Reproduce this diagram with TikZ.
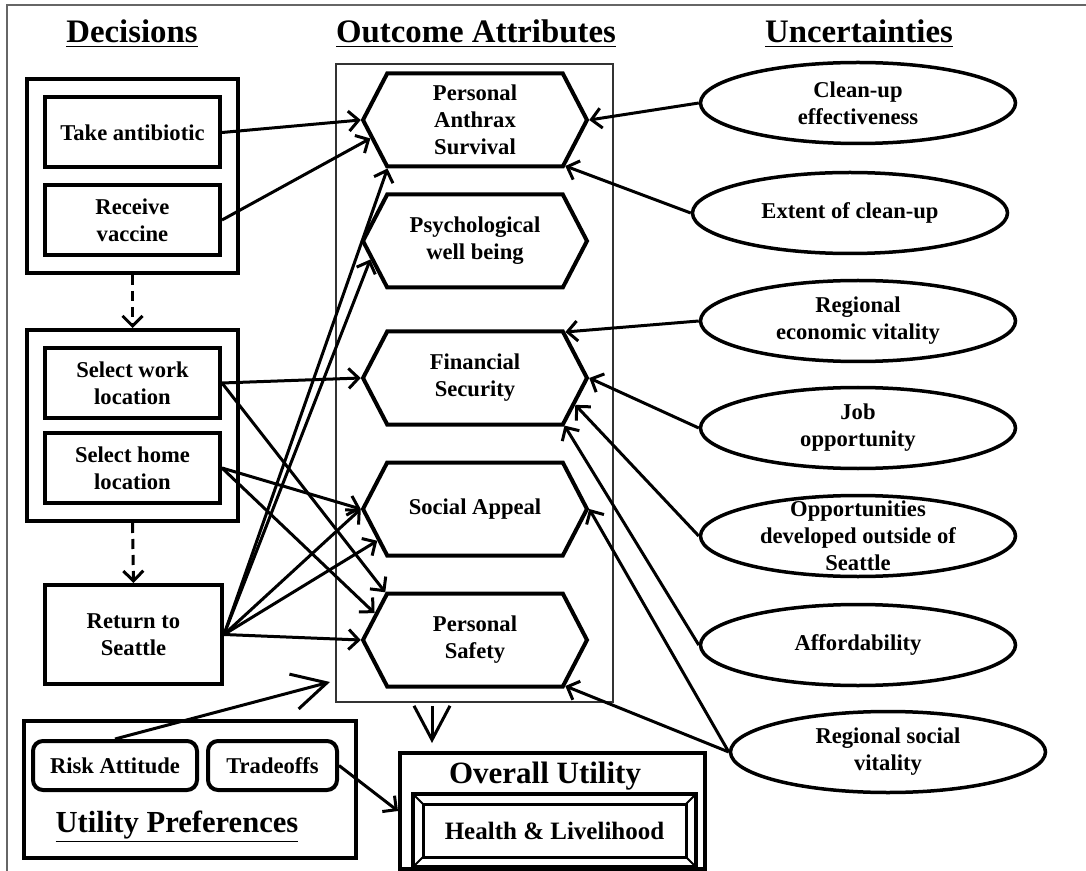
\documentclass[tikz,border=0pt]{standalone}
\usepackage{fontspec}
\setmainfont{Liberation Serif}
\usetikzlibrary{shapes.geometric,shapes.symbols,arrows.meta,fit,calc}

\tikzset{
  txt/.style={font=\bfseries\fontsize{11.3}{13.5}\selectfont, align=center},
  head/.style={font=\bfseries\fontsize{16.4}{19}\selectfont, anchor=base},
  dbox/.style={txt, draw, line width=2pt, minimum width=87.5pt, minimum height=35pt, inner sep=0pt},
  grp/.style={draw, line width=2pt, inner sep=8pt},
  hexa/.style={txt, signal, signal to=east and west, signal pointer angle=125, draw, line width=2pt,
    minimum width=112pt, minimum height=46.5pt, inner sep=0pt},
  unc/.style={txt, ellipse, draw, line width=1.75pt, minimum width=157.5pt, minimum height=40.5pt, inner sep=0pt},
  pref/.style={txt, draw, line width=2pt, rounded corners=5pt, minimum height=24.5pt, inner sep=0pt},
  conn/.style={-{Straight Barb[length=5pt,width=10pt]}, line width=1.5pt},
  bigtip/.style={-{Straight Barb[length=17pt,width=18pt]}, line width=1.5pt},
}

\begin{document}
\begin{tikzpicture}[x=0.5pt,y=-0.5pt]
\useasboundingbox (0,0) rectangle (1086,871);
\draw[black!60, line width=0.6pt] (7,871) -- (7,5) -- (1086,5);

\node[head] (hdec) at (132,43) {\underline{Decisions}};
\node[head] (hout) at (476,43) {\underline{Outcome Attributes}};
\node[head] (hunc) at (859,43) {\underline{Uncertainties}};

% outcome attributes
\node[draw, black!80, line width=0.6pt, minimum width=138.5pt, minimum height=319pt, inner sep=0pt] (outc) at (474.5,383) {};
\node[hexa] (psurv) at (475,120) {Personal\\Anthrax\\Survival};
\node[hexa] (psych) at (475,241) {Psychological\\well being};
\node[hexa] (fin) at (475,378) {Financial\\Security};
\node[hexa] (soc) at (475,509) {Social Appeal};
\node[hexa] (safe) at (475,640) {Personal\\Safety};

% decisions
\node[dbox] (take) at (132.5,132.5) {Take antibiotic};
\node[dbox] (vacc) at (132.5,220) {Receive\\vaccine};
\node[grp, fit=(take)(vacc)] (dec1) {};
\node[dbox] (work) at (132.5,383) {Select work\\location};
\node[dbox] (home) at (132.5,468) {Select home\\location};
\node[grp, fit=(work)(home)] (dec2) {};
\node[dbox, minimum width=88.5pt, minimum height=49.5pt] (ret) at (133.5,634.5) {Return to\\Seattle};

\draw[conn, dashed, dash pattern=on 5pt off 3pt] (dec1.south) -- (dec2.north);
\draw[conn, dashed, dash pattern=on 5pt off 3pt] (dec2.south) -- (ret.north);

% uncertainties
\node[unc] (clean) at (858,103) {Clean-up\\effectiveness};
\node[unc] (extent) at (850,213) {Extent of clean-up};
\node[unc] (econ) at (858,321) {Regional\\economic vitality};
\node[unc] (job) at (858,428) {Job\\opportunity};
\node[unc, inner ysep=-8pt] (opp) at (858,536) {Opportunities\\developed outside of\\Seattle};
\node[unc] (afford) at (858,645) {Affordability};
\node[unc] (socvit) at (888,752) {Regional social\\vitality};

% utility
\node[draw, line width=2pt, minimum width=166pt, minimum height=68.5pt, inner sep=0pt] (upref) at (190,789.5) {};
\node[pref, minimum width=82pt] (risk) at (115,765.5) {Risk Attitude};
\node[pref, minimum width=64.5pt] (trade) at (272.5,765.5) {Tradeoffs};
\node[head, font=\bfseries\fontsize{15.3}{18}\selectfont] (uplab) at (177,832) {\underline{Utility Preferences}};

\node[draw, line width=2pt, minimum width=152.5pt, minimum height=58pt, inner sep=0pt] (util) at (552.5,811) {};
\node[head, font=\bfseries\fontsize{15.5}{18}\selectfont] (utlab) at (545,783) {\underline{Overall Utility}};
\node[draw, line width=1.5pt, outer sep=0pt, minimum width=131.5pt, minimum height=26.5pt, inner sep=0pt,
  font=\bfseries\fontsize{12.5}{15}\selectfont] (hl) at (554.5,830.5) {Health \& Livelihood};
\node[draw, line width=2pt, outer sep=0pt, inner sep=5pt, fit=(hl)] (hlb) {};
\foreach \c in {north west,north east,south west,south east}
  \draw[line width=1pt] (hl.\c) -- (hlb.\c);

% influences
\draw[conn] (take.east) -- (psurv.west);
\draw[conn] (vacc.east) -- (psurv.190);
\draw[conn] (work.east) -- (fin.west);
\draw[conn] (work.east) -- (safe.152);
\draw[conn] (home.east) -- (soc.west);
\draw[conn] (home.east) -- (safe.165);
\draw[conn] (ret.east) -- (psurv.209);
\draw[conn] (ret.east) -- (psych.190);
\draw[conn] (ret.east) -- (soc.west);
\draw[conn] (ret.east) -- (soc.198);
\draw[conn] (ret.east) -- (safe.west);

\draw[conn] (clean.west) -- (psurv.east);
\draw[conn] (extent.west) -- (psurv.333);
\draw[conn] (econ.west) -- (fin.27);
\draw[conn] (job.west) -- (fin.east);
\draw[conn] (opp.west) -- (fin.345);
\draw[conn] (afford.west) -- (fin.332);
\draw[conn] (socvit.west) -- (soc.east);
\draw[conn] (socvit.west) -- (safe.333);

\coordinate (upt) at (330,682);
\coordinate (dn) at (432,706);
\draw[bigtip] (risk.north) -- (upt);
\draw[bigtip, shorten >=4pt] (dn) -- (dn |- util.north);
\draw[conn] (trade.east) -- (util.west);
\end{tikzpicture}
\end{document}
